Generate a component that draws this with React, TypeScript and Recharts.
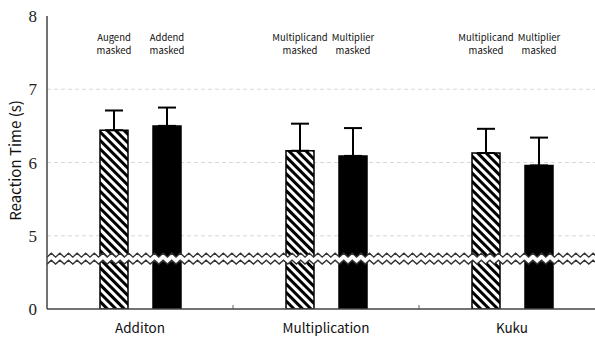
import React from 'react';
import {
  BarChart,
  Bar,
  XAxis,
  YAxis,
  ErrorBar,
  LabelList,
  ReferenceLine,
  ReferenceArea,
  CartesianGrid,
} from 'recharts';

const categories = ['Additon', 'Multiplication', 'Kuku'];
const firstLabels = ['Augend masked', 'Multiplicand masked', 'Multiplicand masked'];
const secondLabels = ['Addend masked', 'Multiplier masked', 'Multiplier masked'];
const firstValues = [6.44, 6.16, 6.13];
const firstErrors = [0.27, 0.37, 0.33];
const secondValues = [6.5, 6.09, 5.96];
const secondErrors = [0.25, 0.38, 0.38];

// axis is broken: 4 on the scale is shown as 0
const yTicks = [4, 5, 6, 7, 8];
const gridValues = [5, 6, 7];
const breakLow = 4.64;
const breakHigh = 4.735;

const data = categories.map((name, i) => ({
  name,
  first: firstValues[i],
  firstErr: [0, firstErrors[i]],
  firstLabel: firstLabels[i],
  second: secondValues[i],
  secondErr: [0, secondErrors[i]],
  secondLabel: secondLabels[i],
}));

const sans = '"Noto Sans CJK JP", "Noto Sans", sans-serif';
const PLOT_TOP = 16;
const PLOT_HEIGHT = 293;

const MaskLabel = (props: any) => {
  const { x, width, value } = props;
  const [a, b] = String(value).split(' ');
  const cx = Number(x) + Number(width) / 2;
  return (
    <text textAnchor="middle" fontFamily={sans} fontSize={9.5} fill="#111">
      <tspan x={cx} y={41}>{a}</tspan>
      <tspan x={cx} y={54}>{b}</tspan>
    </text>
  );
};

const YTick = (props: any) => {
  const { x, y, payload } = props;
  const v = payload.value;
  return (
    <text
      x={x}
      y={y}
      dy={6}
      textAnchor="end"
      fontFamily='"Liberation Serif", "DejaVu Serif", serif'
      fontSize={17}
      fill="#222"
    >
      {v === 4 ? '0' : String(v)}
    </text>
  );
};

const YLabel = () => {
  const cy = PLOT_TOP + PLOT_HEIGHT / 2 - 2;
  const cx = 16;
  return (
    <text
      x={cx}
      y={cy}
      dy={5}
      transform={`rotate(-90 ${cx} ${cy})`}
      textAnchor="middle"
      fontFamily={sans}
      fontSize={15}
      fill="#111"
    >
      Reaction Time (s)
    </text>
  );
};

const BreakMark = (props: any) => {
  const { x, y, width, height } = props;
  const period = 8.6;
  const amp = 2;
  const wave = (y0: number) => {
    const pts: [number, number][] = [];
    let i = 0;
    for (let px = 0; px <= width + period; px += period / 2) {
      pts.push([x + Math.min(px, width), y0 + (i % 2 === 0 ? amp : -amp)]);
      i++;
    }
    return pts;
  };
  const top = wave(y);
  const bottom = wave(y + height);
  const line = (pts: [number, number][]) => pts.map((p) => p.join(',')).join(' ');
  return (
    <g>
      <polygon points={line([...top, ...bottom.slice().reverse()])} fill="#fff" />
      <polyline points={line(top)} fill="none" stroke="#333" strokeWidth={1.4} />
      <polyline points={line(bottom)} fill="none" stroke="#333" strokeWidth={1.4} />
    </g>
  );
};

export default function App() {
  return (
    <div
      style={{
        position: 'absolute',
        left: 0,
        top: 0,
        width: 595,
        height: 337,
        overflow: 'hidden',
        background: '#fff',
      }}
    >
      <BarChart
        width={610}
        height={337}
        data={data}
        margin={{ top: PLOT_TOP, right: 5, bottom: 0, left: 0 }}
        barSize={28}
        barGap={25}
      >
        <defs>
          <pattern
            id="hatch"
            patternUnits="userSpaceOnUse"
            width={6}
            height={6}
            patternTransform="rotate(-45)"
          >
            <rect width={6} height={6} fill="#fff" />
            <rect x={0} width={3} height={6} fill="#000" />
          </pattern>
        </defs>
        <CartesianGrid
          vertical={false}
          horizontalValues={gridValues}
          stroke="#d8d8d8"
          strokeDasharray="4 3"
        />
        <XAxis
          dataKey="name"
          height={28}
          tickLine={false}
          tickMargin={8}
          axisLine={{ stroke: '#444', strokeWidth: 1.5 }}
          tick={{ fontFamily: sans, fontSize: 13.5, fill: '#111' }}
        />
        <YAxis
          type="number"
          domain={[4, 8]}
          ticks={yTicks}
          width={47}
          tickLine={false}
          tickSize={0}
          tickMargin={10}
          allowDataOverflow
          axisLine={{ stroke: '#444', strokeWidth: 1.5 }}
          tick={YTick}
          label={YLabel}
        />
        <Bar dataKey="first" fill="url(#hatch)" stroke="#000" strokeWidth={1.5} isAnimationActive={false}>
          <ErrorBar dataKey="firstErr" width={9} strokeWidth={2} stroke="#000" direction="y" />
          <LabelList dataKey="firstLabel" content={MaskLabel} />
        </Bar>
        <Bar dataKey="second" fill="#000" stroke="#000" strokeWidth={1.5} isAnimationActive={false}>
          <ErrorBar dataKey="secondErr" width={9} strokeWidth={2} stroke="#000" direction="y" />
          <LabelList dataKey="secondLabel" content={MaskLabel} />
        </Bar>
        <ReferenceArea
          y1={breakLow}
          y2={breakHigh}
          shape={BreakMark}
          ifOverflow="visible"
          zIndex={450}
        />
        {categories.slice(0, 2).map((c) => (
          <ReferenceLine
            key={c}
            segment={[
              { x: c, y: 4 },
              { x: c, y: 4.055 },
            ]}
            position="end"
            stroke="#666"
          />
        ))}
      </BarChart>
    </div>
  );
}
